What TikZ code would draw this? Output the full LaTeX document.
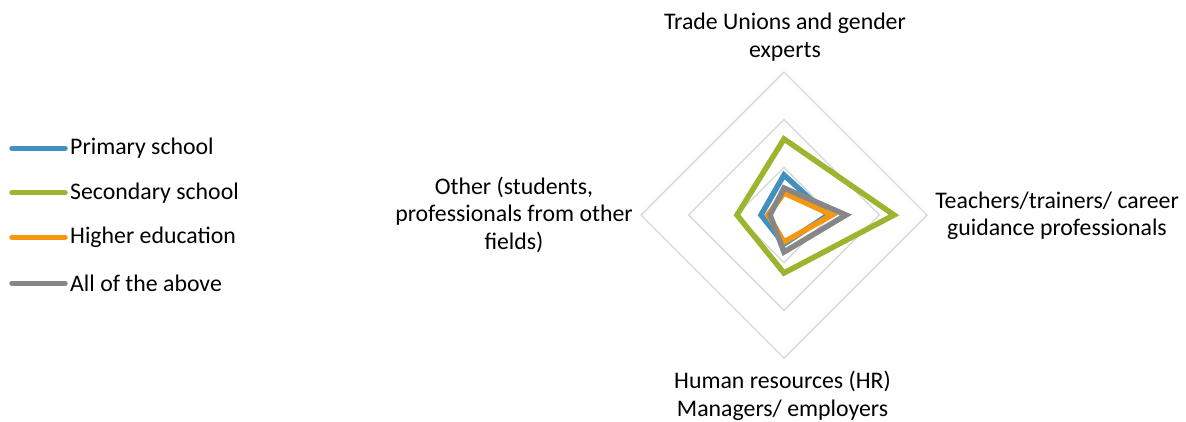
\documentclass[tikz,border=0pt]{standalone}
\usepackage{fontspec}
\setmainfont{Carlito}
\usetikzlibrary{positioning}

\definecolor{primblue}{HTML}{4290C0}
\definecolor{secgreen}{HTML}{9BB52F}
\definecolor{highorange}{HTML}{F7960F}
\definecolor{allgray}{HTML}{878787}
\definecolor{gridgray}{HTML}{D9D9D9}

\begin{document}
\begin{tikzpicture}[x=1pt, y=-1pt,
	grid/.style={draw=gridgray, line width=1.4pt},
	series/.style={line width=5.5pt, line join=miter},
	legline/.style={line width=5.5pt, line cap=round},
	axislabel/.style={align=center, inner sep=0pt, font=\fontsize{23.8}{27.5}\selectfont},
	legtext/.style={anchor=west, inner sep=0pt, font=\fontsize{23.8}{27.5}\selectfont},
	]
	\useasboundingbox (0,0) rectangle (1186,421);
	\coordinate (c) at (784,215);
	
	% grid rings
	\begin{scope}[shift={(c)}]
		\foreach \r in {47.7, 95.3, 143}
			\draw[grid] (0,-\r) -- (\r,0) -- (0,\r) -- (-\r,0) -- cycle;
		
		% series: top, right, bottom, left
		\foreach \col/\t/\rr/\b/\l in {primblue/40/44/29/23, secgreen/76/110/58/47,
			highorange/22/48/27/16, allgray/27/62/37/14}
			\draw[series, \col] (0,-\t) -- (\rr,0) -- (0,\b) -- (-\l,0) -- cycle;
	\end{scope}
	
	% axis labels
	\node[axislabel] (trade) at (785,37) {Trade Unions and gender\\experts};
	\node[axislabel] (teach) at (1057,216) {Teachers/trainers/ career\\guidance professionals};
	\node[axislabel] (hr) at (782.5,396) {Human resources (HR)\\Managers/ employers};
	\node[axislabel] (other) at (514,214.5) {Other (students,\\professionals from other\\fields)};
	
	% legend
	\node[legtext] (prim) at (70,148.3) {Primary school};
	\node[legtext] (sec) at (70,192.7) {Secondary school};
	\node[legtext] (high) at (70,237.3) {Higher education};
	\node[legtext] (all) at (70,283.3) {All of the above};
	\foreach \n/\col in {prim/primblue, sec/secgreen, high/highorange, all/allgray}
	{
		\coordinate (\n-start) at ([xshift=-58pt]\n.west);
		\draw[legline, \col] (\n-start) -- ([xshift=-5pt]\n.west);
	}
\end{tikzpicture}
\end{document}
